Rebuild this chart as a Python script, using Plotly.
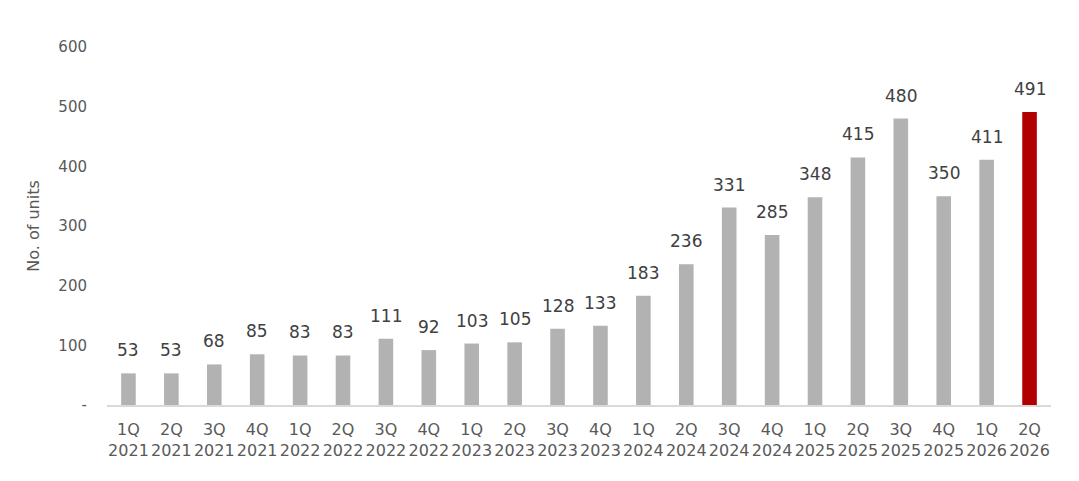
import plotly.graph_objects as go

quarters = ["1Q 2021","2Q 2021","3Q 2021","4Q 2021","1Q 2022","2Q 2022","3Q 2022","4Q 2022",
            "1Q 2023","2Q 2023","3Q 2023","4Q 2023","1Q 2024","2Q 2024","3Q 2024","4Q 2024",
            "1Q 2025","2Q 2025","3Q 2025","4Q 2025","1Q 2026","2Q 2026"]
units = [53,53,68,85,83,83,111,92,103,105,128,133,183,236,331,285,348,415,480,350,411,491]
y_ticks = [0,100,200,300,400,500,600]
y_tick_labels = ["-","100","200","300","400","500","600"]

FONT = "DejaVu Sans"
labels = [q.replace(" ", "<br>") for q in quarters]
colors = ["#b2b2b2"] * (len(units) - 1) + ["#b00000"]

fig = go.Figure()
fig.add_trace(go.Bar(x=labels, y=units, marker_color=colors, marker_line_width=0, width=0.34))
for xl, v in zip(labels, units):
    fig.add_annotation(x=xl, y=v, text=str(v), showarrow=False, yanchor="bottom", yshift=11,
                       font=dict(size=17, color="#404040", family=FONT))

fig.update_layout(
    width=1079, height=481,
    margin=dict(l=99, r=36, t=39, b=84),
    plot_bgcolor="white", paper_bgcolor="white",
    showlegend=False,
    font=dict(family=FONT, color="#595959"),
)
fig.update_xaxes(showline=True, linecolor="#d9d9d9", linewidth=1.5, ticks="", showgrid=False,
                 tickfont=dict(size=16, color="#595959"), ticklabelstandoff=9)
fig.update_yaxes(range=[0, 600], tickvals=y_ticks, ticktext=y_tick_labels, showgrid=False,
                 zeroline=False, showline=False, tickfont=dict(size=15, color="#595959"),
                 ticklabelstandoff=19,
                 title=dict(text="No. of units", font=dict(size=16, color="#595959"), standoff=14))
fig.write_html("out.html")
